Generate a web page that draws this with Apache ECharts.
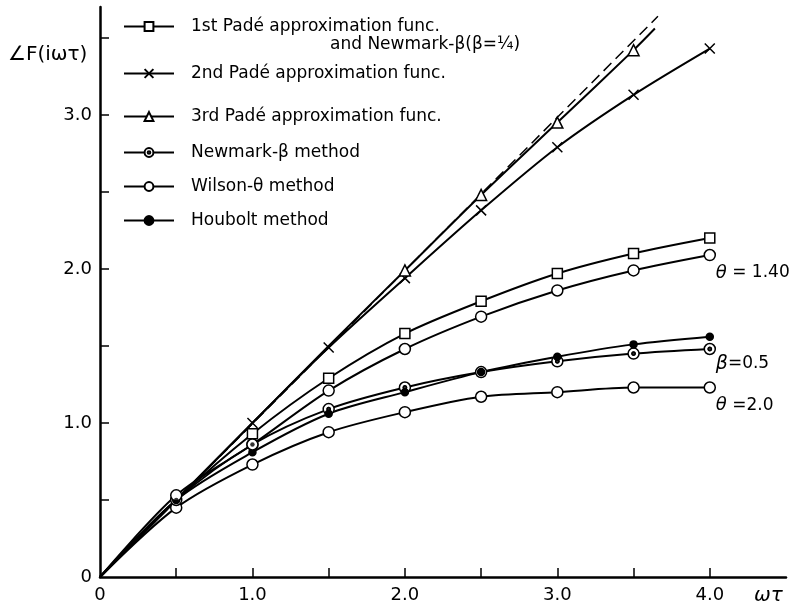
<!DOCTYPE html>
<html>
<head>
<meta charset="utf-8">
<script src="https://cdn.jsdelivr.net/npm/echarts@6/dist/echarts.min.js"></script>
<style>
  html, body { margin: 0; padding: 0; background: #fff; }
  #container { width: 794px; height: 610px; }
</style>
</head>
<body>
<div id="container"></div>
<script>
var dom = document.getElementById('container');
var myChart = echarts.init(dom, null, { renderer: 'canvas' });

// omega*tau sample points
var xs = [0, 0.5, 1.0, 1.5, 2.0, 2.5, 3.0, 3.5, 4.0];

// phase angle values
var pade1 = [0, 0.5, 0.93, 1.29, 1.58, 1.79, 1.97, 2.10, 2.20];
var pade2 = [0, 0.5, 1.0, 1.49, 1.94, 2.38, 2.79, 3.13, 3.43];
var pade3 = [0, 0.5, 1.0, 1.5, 1.99, 2.48, 2.95, 3.42];
var pade3End = [3.64, 3.56];        // where the curve leaves the frame
var newmark = [0, 0.5, 0.86, 1.09, 1.23, 1.33, 1.40, 1.45, 1.48];
var wilson14 = [0, 0.53, 0.86, 1.21, 1.48, 1.69, 1.86, 1.99, 2.09];
var wilson20 = [0, 0.45, 0.73, 0.94, 1.07, 1.17, 1.20, 1.23, 1.23];
var houbolt = [0, 0.5, 0.81, 1.06, 1.20, 1.33, 1.43, 1.51, 1.56];
var exact = [[0, 0], [3.66, 3.64]];

var names = [
    '1st Padé approximation func.',
    '2nd Padé approximation func.',
    '3rd Padé approximation func.',
    'Newmark-β method',
    'Wilson-θ method',
    'Houbolt method'
];

var xTicks = [0.5, 1.0, 1.5, 2.0, 2.5, 3.0, 3.5, 4.0];
var xLabels = [0, 1.0, 2.0, 3.0, 4.0];
var yTicks = [0.5, 1.0, 1.5, 2.0, 2.5, 3.0, 3.5];
var yLabels = [0, 1.0, 2.0, 3.0];

var FONT = 'DejaVu Sans';
var crossPath = 'path://M0,0L10,10M10,0L0,10';
var dotCirclePath = 'path://M10,0A10,10 0 1,1 10,20A10,10 0 1,1 10,0ZM10,7A3,3 0 1,1 10,13A3,3 0 1,1 10,7Z';

// pair up x and y, hiding markers on the given indices
function pts(ys, hidden) {
    var out = [];
    for (var i = 0; i < ys.length; i++) {
        var p = { value: [xs[i], ys[i]] };
        if (hidden.indexOf(i) >= 0) p.symbol = 'none';
        out.push(p);
    }
    return out;
}

function lineSeries(name, data, symbol, size, fill) {
    return {
        name: name,
        type: 'line',
        data: data,
        smooth: 0.3,
        symbol: symbol,
        symbolSize: size,
        showAllSymbol: true,
        z: 3,
        lineStyle: { color: '#000', width: 2 },
        itemStyle: { color: fill, borderColor: '#000', borderWidth: 1.5 },
        emphasis: { disabled: true }
    };
}

var p3data = pts(pade3, [0, 1, 2, 3]);
p3data.push({ value: pade3End, symbol: 'none' });

var sPade1 = lineSeries(names[0], pts(pade1, [0, 1]), 'rect', 10, '#fff');
var sPade2 = lineSeries(names[1], pts(pade2, [0, 1]), crossPath, 10, '#fff');
var sPade3 = lineSeries(names[2], p3data, 'triangle', 11, '#fff');
var sNewmark = lineSeries(names[3], pts(newmark, [0]), dotCirclePath, 11, '#fff');
var sWilson = lineSeries(names[4], pts(wilson14, [0]), 'circle', 11, '#fff');
var sWilson2 = lineSeries(names[4], pts(wilson20, [0]), 'circle', 11, '#fff');
var sHoubolt = lineSeries(names[5], pts(houbolt, [0]), 'circle', 7, '#000');

// solid centre dots of the Newmark markers
var sNewmarkDots = {
    type: 'scatter',
    data: pts(newmark, []).slice(1),
    symbol: 'circle',
    symbolSize: 4.5,
    z: 4,
    silent: true,
    itemStyle: { color: '#000' }
};

var endLab = {
    show: true,
    color: '#000',
    fontFamily: FONT,
    fontSize: 17,
    distance: 6
};
sWilson.endLabel = Object.assign({ formatter: '{i|θ} = 1.40', offset: [0, 18],
    rich: { i: { fontStyle: 'italic', fontSize: 18, fontFamily: FONT } } }, endLab);
sNewmark.endLabel = Object.assign({ formatter: '{i|β}=0.5', offset: [0, 15],
    rich: { i: { fontStyle: 'italic', fontSize: 19, fontFamily: FONT } } }, endLab);
sWilson2.endLabel = Object.assign({ formatter: '{i|θ} =2.0', offset: [0, 18],
    rich: { i: { fontStyle: 'italic', fontSize: 18, fontFamily: FONT } } }, endLab);

var sExact = {
    type: 'line',
    data: exact,
    symbol: 'none',
    z: 2,
    lineStyle: { color: '#000', width: 1.5, type: [11, 6] },
    emphasis: { disabled: true }
};

function legendBox(data, top, gap) {
    return {
        orient: 'vertical',
        left: 118,
        top: top,
        data: data,
        itemWidth: 50,
        itemHeight: 11,
        itemGap: gap,
        selectedMode: false,
        textStyle: { color: '#000', fontFamily: FONT, fontSize: 17, padding: [0, 0, 0, 12] }
    };
}

function fmt(v) { return v === 0 ? '0' : v.toFixed(1); }

option = {
    animation: false,
    backgroundColor: '#fff',
    grid: { left: 100, right: 8, top: 7, bottom: 33 },
    legend: [
        legendBox([names[0]], 13, 10),
        legendBox([names[1], names[2]], 60, 26),
        legendBox([names[3], names[4], names[5]], 139, 17)
    ],
    xAxis: {
        type: 'value',
        min: 0,
        max: 4.5,
        interval: 0.5,
        splitLine: { show: false },
        axisLine: { lineStyle: { color: '#000', width: 2.5 } },
        axisTick: { inside: true, length: 9, lineStyle: { color: '#000', width: 1.5 }, customValues: xTicks },
        axisLabel: { color: '#000', fontFamily: FONT, fontSize: 18, margin: 9, customValues: xLabels, formatter: fmt }
    },
    yAxis: {
        type: 'value',
        min: 0,
        max: 3.7,
        interval: 0.5,
        splitLine: { show: false },
        axisLine: { show: true, lineStyle: { color: '#000', width: 2.5 } },
        axisTick: { show: true, inside: true, length: 9, lineStyle: { color: '#000', width: 1.5 }, customValues: yTicks },
        axisLabel: { color: '#000', fontFamily: FONT, fontSize: 18, margin: 8, customValues: yLabels, formatter: fmt }
    },
    graphic: [
        { type: 'text', left: 8, top: 45, style: { text: '∠F(iωτ)', font: '20px "DejaVu Sans"', fill: '#000' } },
        { type: 'text', left: 754, top: 586, style: { text: 'ωτ', font: 'italic 20px "DejaVu Sans"', fill: '#000' } },
        { type: 'text', left: 330, top: 36, style: { text: 'and Newmark-β(β=¼)', font: '17px "DejaVu Sans"', fill: '#000' } }
    ],
    series: [sExact, sPade1, sPade2, sPade3, sWilson2, sNewmark, sHoubolt, sWilson, sNewmarkDots]
};

myChart.setOption(option);
window.addEventListener('resize', myChart.resize);
</script>
</body>
</html>
